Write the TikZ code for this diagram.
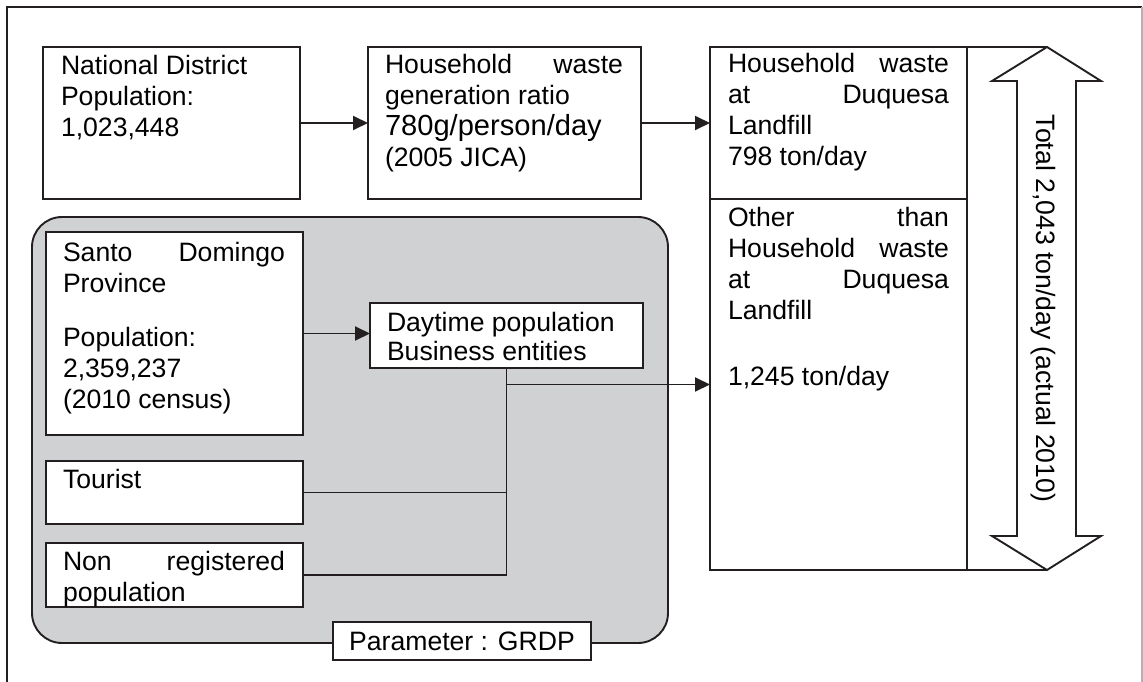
\documentclass[tikz,border=0pt]{standalone}
\usepackage{fontspec}
\setmainfont{Liberation Sans}
\usetikzlibrary{arrows.meta}
\definecolor{ink}{HTML}{231F20}
\definecolor{panel}{HTML}{D0D1D3}
\begin{document}
\begin{tikzpicture}[x=1pt,y=-1pt,
  every node/.style={inner sep=0pt, outer sep=0pt},
  box/.style={draw=ink, line width=1.9pt, fill=white, rectangle},
  txt/.style={anchor=base west, text=black, font=\fontsize{26.6}{31}\selectfont},
  flow/.style={draw=ink, line width=1.9pt},
  arr/.style={flow, -{Triangle[length=15pt,width=14pt]}},
]
\useasboundingbox (0,0) rectangle (1143,682);

% page frame
\draw[ink, line width=1.3pt] (7,682) -- (7,7) -- (1142,7);
\draw[gray!60, line width=1.3pt] (1142,7) -- (1142,682);

% grey parameter region
\node[box, fill=panel, rounded corners=30pt, minimum width=636pt, minimum height=426pt] (region) at (350,430) {};

% boxes
\node[box, minimum width=257pt, minimum height=152pt] (nd)  at (171.5,123) {};
\node[box, minimum width=273pt, minimum height=152pt] (gen) at (504.5,123) {};
\node[box, minimum width=257pt, minimum height=152pt] (hw)  at (838.5,123) {};
\node[box, minimum width=257pt, minimum height=371pt] (ohw) at (838.5,384.5) {};
\node[box, minimum width=257pt, minimum height=203pt] (santo)  at (174.5,333.5) {};
\node[box, minimum width=273pt, minimum height=65pt]  (day)    at (506.5,335.5) {};
\node[box, minimum width=257pt, minimum height=63pt]  (tour)   at (174.5,492.5) {};
\node[box, minimum width=257pt, minimum height=64pt]  (nonreg) at (174.5,575) {};

% box texts
\node[txt] (ndt) at (61,74.5) {\parbox[t]{221pt}{National District\\Population:\\1,023,448}};
\node[txt] (gent) at (385,74) {\parbox[t]{238pt}{Household\hfill waste\\generation ratio\\{\fontsize{29.1}{31}\selectfont 780g/person/day}\\(2005 JICA)}};
\node[txt] (hwt) at (728,73) {\parbox[t]{221pt}{Household\hfill waste\\at\hfill Duquesa\\Landfill\\798 ton/day}};
\node[txt] (ohwt) at (728,226) {\parbox[t]{221pt}{Other\hfill than\\Household\hfill waste\\at\hfill Duquesa\\Landfill\\[35pt]1,245 ton/day}};
\node[txt] (santot) at (63,261) {\parbox[t]{222pt}{Santo\hfill Domingo\\Province\\[23pt]Population:\\2,359,237\\(2010 census)}};
\node[txt] (dayt) at (387,331) {\parbox[t]{250pt}{Daytime population\\[-2pt]Business entities}};
\node[txt] (tourt) at (63,488) {Tourist};
\node[txt] (nonregt) at (63,570) {\parbox[t]{222pt}{Non\hfill registered\\population}};

% connectors
\draw[arr] (nd.east) -- (gen.west);
\draw[arr] (gen.east) -- (hw.west);
\draw[arr] (santo.east) -- (santo.east -| day.west);
\draw[flow] (day.south) -- (day.south |- nonreg.east) -- (nonreg.east);
\draw[flow] (tour.east) -- (tour.east -| day.south);
\coordinate (join) at (day.south |- ohw.west);
\draw[arr] (join) -- (ohw.west);

% total double arrow
\coordinate (tipT) at (1047,47);
\coordinate (tipB) at (1047,570);
\draw[flow] (hw.north east) -- (tipT);
\draw[flow] (ohw.south east) -- (tipB);
\draw[flow, fill=white, line join=miter] (tipT) -- (1101,81) -- (1076,81) -- (1076,536) -- (1101,536) -- (tipB)
  -- (992,536) -- (1017,536) -- (1017,81) -- (992,81) -- cycle;
\node[font=\fontsize{26.6}{31}\selectfont, rotate=-90] (total) at (1043,308.5) {Total 2,043 ton/day (actual 2010)};

% parameter label on the region edge
\node[box, minimum width=258pt, minimum height=38pt, font=\fontsize{26.6}{31}\selectfont] (param) at (462,641) {Parameter : GRDP};
\end{tikzpicture}
\end{document}
